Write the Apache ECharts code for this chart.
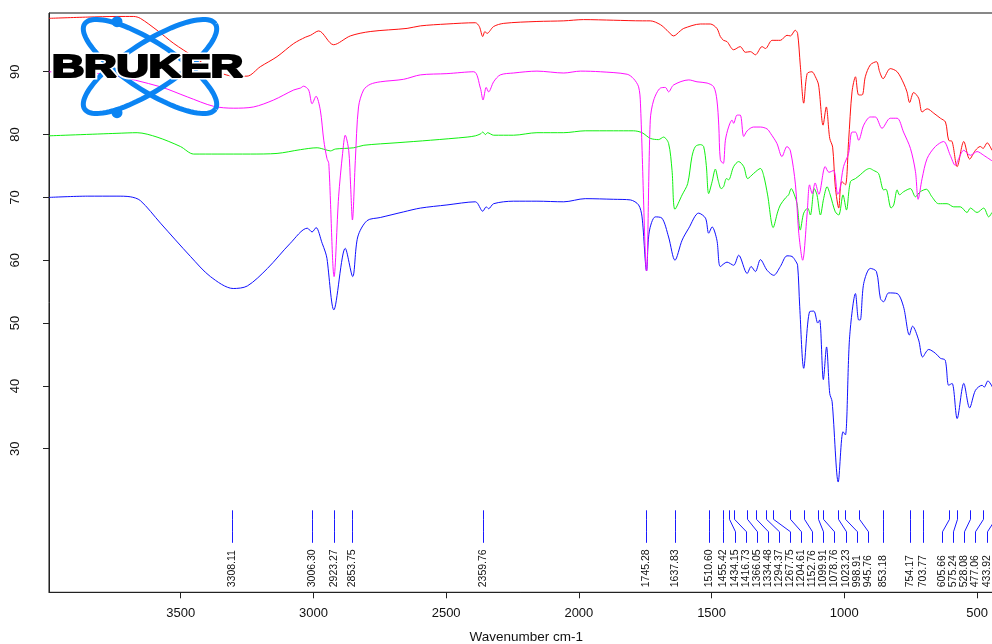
<!DOCTYPE html>
<html>
<head>
<meta charset="utf-8">
<script src="https://cdn.jsdelivr.net/npm/echarts@6/dist/echarts.min.js"></script>
<style>
  html, body { margin: 0; padding: 0; background: #ffffff; }
  #chart { width: 992px; height: 644px; }
</style>
</head>
<body>
<div id="chart"></div>
<script>
// Axis tick values
const xTicks = [3500, 3000, 2500, 2000, 1500, 1000, 500];
const yTicks = [30, 40, 50, 60, 70, 80, 90];

// Picked peak positions (cm-1)
const peakPositions = [3308.11, 3006.30, 2923.27, 2853.75, 2359.76, 1745.28, 1637.83, 1510.60,
  1455.42, 1434.15, 1416.73, 1366.05, 1334.48, 1294.37, 1267.75, 1204.61, 1152.76, 1099.91,
  1078.76, 1023.23, 998.91, 945.76, 853.18, 754.17, 703.77, 605.66, 575.24, 528.08, 477.06, 433.92];

// Spectra: [wavenumber cm-1, transmittance %]
const redSpectrum = [[3996,98.5],[3850,98.7],[3740,98.8],[3677,98.8],[3652,98.5],[3589,96.6],[3526,94.5],
  [3451,92.4],[3376,90.3],[3300,89.3],[3250,89.3],[3200,90.8],[3137,92.4],[3074,94.5],[3030,95.5],
  [3011,95.8],[2980,96.5],[2924,94.3],[2861,95.7],[2786,96.4],[2647,96.9],[2597,97.3],[2497,97.6],
  [2390,97.8],[2375,97.2],[2362,95.6],[2354,96.4],[2346,96.1],[2321,97.2],[2283,97.7],[2158,98.0],
  [2057,98.1],[1982,98.3],[1869,98.2],[1760,98.1],[1731,98.1],[1693,97.5],[1668,96.6],[1643,95.7],
  [1618,96.5],[1605,96.9],[1542,97.6],[1505,97.6],[1480,96.9],[1467,95.6],[1455,95.0],[1442,94.8],
  [1417,93.5],[1392,94.0],[1373,93.1],[1354,93.2],[1335,92.7],[1310,94.0],[1297,93.7],[1272,95.0],
  [1241,95.0],[1216,95.8],[1203,95.7],[1185,96.6],[1176,96.1],[1166,91.1],[1153,85.0],[1140,89.7],
  [1122,90.0],[1109,89.2],[1097,87.9],[1080,81.5],[1068,84.4],[1055,79.4],[1044,78.0],[1034,71.7],
  [1021,68.3],[1015,71.4],[1009,72.5],[996,72.0],[984,78.9],[971,86.8],[958,89.2],[946,86.3],
  [933,86.3],[921,89.2],[902,91.1],[879,91.6],[867,90.0],[854,88.9],[827,90.5],[801,90.0],[777,88.2],
  [764,86.8],[754,85.1],[739,86.7],[720,85.8],[707,83.6],[688,84.1],[663,83.4],[638,82.6],[619,82.0],
  [607,79.1],[594,78.9],[575,74.9],[550,78.9],[528,76.1],[506,77.5],[488,78.1],[477,77.8],[462,78.7],
  [444,77.5]];

const magentaSpectrum = [[3996,90.0],[3880,89.8],[3765,89.5],[3576,87.6],[3475,86.0],[3376,84.5],
  [3300,84.2],[3225,84.4],[3150,85.5],[3074,87.1],[3049,87.4],[3037,87.7],[3018,87.1],[3005,84.9],
  [2990,86.1],[2974,83.9],[2961,79.1],[2949,76.2],[2942,75.4],[2922,57.4],[2905,70.1],[2890,77.0],
  [2880,79.9],[2867,77.5],[2860,72.0],[2853,66.4],[2842,75.9],[2830,84.4],[2811,87.1],[2786,88.0],
  [2748,88.4],[2660,88.8],[2597,89.5],[2497,89.7],[2396,90.0],[2371,87.4],[2361,85.5],[2349,87.5],
  [2340,86.8],[2321,88.4],[2296,89.5],[2246,89.8],[2158,90.1],[2057,89.8],[1994,90.1],[1919,90.0],
  [1818,89.6],[1794,88.9],[1775,87.6],[1768,85.0],[1745,58.3],[1731,82.3],[1718,85.5],[1693,87.4],
  [1674,87.5],[1662,86.8],[1643,87.9],[1586,88.7],[1555,88.4],[1517,88.2],[1492,87.6],[1480,85.5],
  [1473,81.5],[1467,76.0],[1456,75.4],[1448,79.1],[1436,81.2],[1423,82.3],[1417,81.8],[1404,83.1],
  [1392,83.1],[1379,79.7],[1366,80.6],[1342,81.2],[1316,81.2],[1291,80.9],[1278,80.2],[1254,78.6],
  [1235,76.5],[1216,78.1],[1203,77.4],[1184,72.0],[1172,64.5],[1157,60.0],[1140,67.5],[1131,72.0],
  [1121,70.6],[1110,72.3],[1096,70.5],[1072,74.9],[1058,74.0],[1040,74.3],[1025,70.5],[1018,71.0],
  [1003,74.9],[984,77.0],[971,80.4],[958,80.4],[946,79.1],[927,81.5],[902,82.8],[883,82.8],[858,81.0],
  [827,82.6],[801,82.6],[777,80.4],[751,77.8],[732,74.1],[722,69.7],[707,73.0],[688,76.2],[657,78.1],
  [626,78.9],[601,76.7],[582,75.1],[569,76.2],[550,77.5],[525,76.7],[500,77.3],[475,76.7],[443,75.8]];

const greenSpectrum = [[3996,79.8],[3740,80.2],[3664,80.3],[3589,79.6],[3501,78.1],[3451,76.9],
  [3363,76.9],[3237,76.9],[3137,77.0],[3049,77.6],[2986,77.9],[2955,77.6],[2936,77.4],[2917,77.7],
  [2848,77.9],[2810,78.3],[2685,78.7],[2559,79.1],[2421,79.6],[2390,79.8],[2371,80.1],[2362,80.4],
  [2352,80.0],[2344,80.3],[2321,79.9],[2246,79.9],[2158,80.3],[2057,80.3],[1976,80.6],[1869,80.6],
  [1794,80.6],[1762,80.3],[1731,79.4],[1700,79.2],[1681,79.6],[1662,78.6],[1649,74.3],[1638,68.1],
  [1611,70.4],[1590,72.2],[1574,76.5],[1561,78.1],[1542,78.4],[1530,78.1],[1520,75.1],[1511,70.6],
  [1498,72.5],[1486,74.5],[1474,72.5],[1464,71.4],[1455,71.7],[1444,73.0],[1436,72.8],[1417,74.9],
  [1398,75.7],[1379,74.9],[1364,73.0],[1342,73.8],[1316,74.6],[1304,73.5],[1289,70.4],[1268,65.2],
  [1251,67.7],[1241,68.8],[1222,69.9],[1210,70.4],[1200,71.4],[1188,70.4],[1178,69.0],[1166,64.8],
  [1153,67.5],[1138,68.3],[1128,67.2],[1113,71.4],[1103,70.4],[1090,67.2],[1078,69.8],[1065,71.7],
  [1053,70.4],[1034,67.7],[1021,67.2],[1005,70.4],[992,68.0],[977,72.5],[958,73.0],[940,73.6],
  [921,74.3],[905,74.6],[890,74.3],[871,73.8],[852,71.2],[843,71.3],[824,68.3],[814,68.8],[801,71.2],
  [792,70.4],[777,70.9],[751,71.4],[732,70.1],[714,70.9],[691,71.3],[670,70.1],[645,69.0],[613,69.0],
  [588,68.5],[563,68.5],[538,67.6],[525,68.3],[500,67.6],[475,68.3],[456,66.9],[444,67.6]];

const blueSpectrum = [[3996,70.0],[3850,70.2],[3740,70.2],[3690,70.1],[3652,69.5],[3576,65.9],
  [3463,60.6],[3388,57.4],[3302,55.5],[3249,55.9],[3173,58.7],[3087,62.7],[3023,65.1],[3005,64.5],
  [2990,65.2],[2967,62.7],[2955,61.3],[2949,60.3],[2923,52.1],[2880,61.9],[2852,57.4],[2833,63.7],
  [2798,66.3],[2748,66.8],[2660,67.7],[2597,68.3],[2497,68.8],[2390,69.3],[2362,67.8],[2349,68.5],
  [2340,68.2],[2321,69.0],[2246,69.4],[2158,69.4],[2057,69.3],[1976,69.8],[1869,69.7],[1806,69.6],
  [1775,68.8],[1762,66.9],[1745,58.3],[1735,64.5],[1712,66.9],[1687,66.7],[1662,63.7],[1638,60.0],
  [1611,63.2],[1586,65.1],[1549,67.5],[1523,66.7],[1511,64.3],[1498,65.3],[1480,63.2],[1467,59.0],
  [1442,59.7],[1417,59.2],[1398,60.8],[1366,57.9],[1351,59.0],[1335,58.2],[1316,60.1],[1291,58.4],
  [1266,57.6],[1241,59.0],[1216,60.7],[1197,60.6],[1184,59.9],[1176,59.2],[1168,52.6],[1153,42.8],
  [1131,51.8],[1115,51.9],[1100,50.0],[1093,50.5],[1079,41.0],[1067,46.2],[1055,38.8],[1046,37.5],
  [1023,24.7],[1005,32.7],[996,32.2],[980,47.8],[958,54.7],[946,50.5],[940,50.5],[927,56.3],[902,58.7],
  [879,58.2],[864,53.9],[852,53.4],[833,54.8],[801,54.7],[777,52.6],[755,48.1],[743,49.5],[720,47.3],
  [705,44.6],[682,45.8],[657,45.2],[638,44.4],[620,44.1],[607,40.1],[594,40.4],[575,34.8],[550,40.4],
  [528,36.5],[506,39.3],[481,40.1],[473,39.8],[459,40.8],[442,39.8]];

const X_MIN = 400, X_MAX = 3996;
const Y_MIN = 7.15, Y_MAX = 99.35;
const FONT = '"Liberation Sans", Arial, Helvetica, sans-serif';
const LABEL_GAP = 11.1;

// Spread peak labels so they do not overlap, keeping them inside the canvas
function peakLabelLayout(api) {
  const xs = peakPositions.map(w => api.coord([w, Y_MIN])[0]);
  const order = xs.map((_, i) => i).sort((a, b) => xs[a] - xs[b]);
  const lx = new Array(xs.length);
  let prev = -Infinity;
  for (const i of order) { lx[i] = Math.max(xs[i], prev + LABEL_GAP); prev = lx[i]; }
  let next = api.getWidth() - 5.5 + LABEL_GAP;
  for (let k = order.length - 1; k >= 0; k--) {
    const i = order[k];
    lx[i] = Math.min(lx[i], next - LABEL_GAP);
    next = lx[i];
  }
  return { xs, lx };
}

function renderPeak(params, api) {
  const i = params.dataIndex;
  const { xs, lx } = peakLabelLayout(api);
  const base = api.coord([X_MAX, Y_MIN])[1];
  const x = Math.round(xs[i]) + 0.5, l = Math.round(lx[i]) + 0.5;
  return {
    type: 'group',
    children: [
      { type: 'polyline',
        shape: { points: [[x, base - 82], [x, base - 73], [l, base - 60.5], [l, base - 49.5]] },
        style: { stroke: '#1a1aff', lineWidth: 1, fill: null } },
      { type: 'text', x: l, y: base - 5, rotation: Math.PI / 2,
        style: { text: peakPositions[i].toFixed(2), fill: '#111', font: '10.5px ' + FONT,
                 align: 'left', verticalAlign: 'middle' } }
    ]
  };
}

function ellipsePoints(cx, cy, a, b, ang) {
  const pts = [];
  for (let k = 0; k <= 96; k++) {
    const t = k / 96 * 2 * Math.PI;
    const ex = a * Math.cos(t), ey = b * Math.sin(t);
    pts.push([cx + ex * Math.cos(ang) - ey * Math.sin(ang), cy + ex * Math.sin(ang) + ey * Math.cos(ang)]);
  }
  return pts;
}

const LOGO_BLUE = '#0b84f3';
const lineSeries = (name, data, color) => ({
  name, type: 'line', data, showSymbol: false, symbol: 'none', smooth: 0.3,
  lineStyle: { color, width: 1 }, animation: false, z: 3
});

const chart = echarts.init(document.getElementById('chart'), null, { renderer: 'canvas' });
chart.setOption({
  animation: false,
  backgroundColor: '#ffffff',
  grid: { left: 49, top: 13, width: 954.6, height: 579.3, show: true, borderColor: '#111', borderWidth: 1,
          containLabel: false, outerBoundsMode: 'none' },
  xAxis: {
    type: 'value', inverse: true, min: X_MIN, max: X_MAX,
    name: 'Wavenumber cm-1', nameLocation: 'middle', nameGap: 38,
    nameTextStyle: { fontFamily: FONT, fontSize: 13.5, color: '#111' },
    splitLine: { show: false },
    axisLine: { show: true, onZero: false, lineStyle: { color: '#222', width: 1 } },
    axisTick: { show: true, length: 6, inside: false, customValues: xTicks, lineStyle: { color: '#222' } },
    axisLabel: { customValues: xTicks, margin: 15, fontFamily: FONT, fontSize: 13, color: '#111',
                 formatter: v => String(v) }
  },
  yAxis: {
    type: 'value', min: Y_MIN, max: Y_MAX,
    splitLine: { show: false },
    axisLine: { show: true, onZero: false, lineStyle: { color: '#222', width: 1 } },
    axisTick: { show: true, length: 6, customValues: yTicks, lineStyle: { color: '#222' } },
    axisLabel: { customValues: yTicks, rotate: 90, margin: 27, fontFamily: FONT, fontSize: 13, color: '#111',
                 formatter: v => String(v) }
  },
  series: [
    lineSeries('blue', blueSpectrum, '#1010ff'),
    lineSeries('green', greenSpectrum, '#10f010'),
    lineSeries('red', redSpectrum, '#ff1010'),
    lineSeries('magenta', magentaSpectrum, '#ff10ff'),
    {
      type: 'custom', name: 'peaks', coordinateSystem: 'cartesian2d',
      data: peakPositions.map(w => [w, Y_MIN]),
      encode: { x: 0, y: 1 }, renderItem: renderPeak, clip: false, silent: true, z: 4
    }
  ],
  graphic: [
    { type: 'polyline', z: 100, shape: { points: ellipsePoints(150, 66.5, 78, 24, 33 * Math.PI / 180) },
      style: { stroke: LOGO_BLUE, lineWidth: 5, fill: null } },
    { type: 'polyline', z: 100, shape: { points: ellipsePoints(150, 66.5, 78, 24, -33 * Math.PI / 180) },
      style: { stroke: LOGO_BLUE, lineWidth: 5, fill: null } },
    { type: 'circle', z: 101, shape: { cx: 117, cy: 21.7, r: 5.5 }, style: { fill: LOGO_BLUE } },
    { type: 'circle', z: 101, shape: { cx: 117, cy: 112.7, r: 5.5 }, style: { fill: LOGO_BLUE } },
    { type: 'text', z: 102, x: 52, y: 68, scaleX: 1.44, originX: 0,
      style: { text: 'BRUKER', font: 'bold 31px ' + FONT, fill: '#ffffff', stroke: '#ffffff', lineWidth: 5,
               align: 'left', verticalAlign: 'middle' } },
    { type: 'text', z: 103, x: 52, y: 68, scaleX: 1.44, originX: 0,
      style: { text: 'BRUKER', font: 'bold 31px ' + FONT, fill: '#000000', stroke: '#000000', lineWidth: 2.2,
               align: 'left', verticalAlign: 'middle' } }
  ]
});
</script>
</body>
</html>
